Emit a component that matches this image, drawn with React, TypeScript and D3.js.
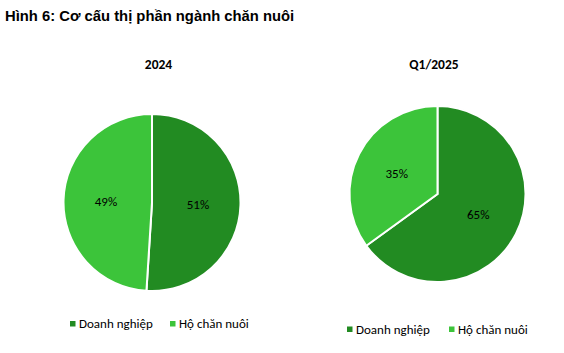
import React from "react";
import * as d3 from "d3";

const title = "Hình 6: Cơ cấu thị phần ngành chăn nuôi";
const categories = ["Doanh nghiệp", "Hộ chăn nuôi"];
const colors = ["#228B22", "#3CC43A"];
const chartTitles = ["2024", "Q1/2025"];
const values2024 = [51, 49];
const valuesQ1 = [65, 35];

const charts = [
  { title: chartTitles[0], values: values2024, cx: 152, cy: 202.5, r: 88.5, titleX: 158.5, titleY: 69, legendY: 328, legendX: 70, legendGap: 100 },
  { title: chartTitles[1], values: valuesQ1, cx: 437.5, cy: 194, r: 88, titleX: 434, titleY: 69, legendY: 333.5, legendX: 347, legendGap: 102 },
];

const font = "Carlito, Calibri, 'Open Sans', 'Noto Sans', sans-serif";

function Pie({ c }: { c: any }) {
  const pie = d3.pie<number>().sort(null).value((d) => d);
  const arcs = pie(c.values);
  const arc = d3.arc<d3.PieArcDatum<number>>().innerRadius(0).outerRadius(c.r);
  const labelArc = d3.arc<d3.PieArcDatum<number>>().innerRadius(c.r * 0.52).outerRadius(c.r * 0.52);
  return (
    <g>
      <text x={c.titleX} y={c.titleY} textAnchor="middle" fontFamily={font} fontWeight="bold" fontSize={13.5} fill="#000">
        {c.title}
      </text>
      <g transform={`translate(${c.cx},${c.cy})`}>
        {arcs.map((a, i) => (
          <path key={i} d={arc(a) || ""} fill={colors[i]} stroke="#fff" strokeWidth={2} strokeLinejoin="miter" />
        ))}
        {arcs.map((a, i) => {
          const [x, y] = labelArc.centroid(a);
          return (
            <text key={i} x={x} y={y} dy="0.35em" textAnchor="middle" fontFamily={font} fontSize={13} fill="#000">
              {`${c.values[i]}%`}
            </text>
          );
        })}
      </g>
      <g transform={`translate(${c.legendX},${c.legendY})`}>
        {categories.map((cat, i) => {
          const x = i === 0 ? 0 : c.legendGap;
          return (
            <g key={cat} transform={`translate(${x},0)`}>
              <rect x={0} y={-7} width={5.5} height={5.5} fill={colors[i]} />
              <text x={9} y={0} fontFamily={font} fontSize={13} fill="#000">
                {cat}
              </text>
            </g>
          );
        })}
      </g>
    </g>
  );
}

export default function App() {
  return (
    <svg width={564} height={353} style={{ position: "absolute", left: 0, top: 0, background: "#fff" }}>
      <rect width={564} height={353} fill="#fff" />
      <text x={5} y={21} fontFamily="'Liberation Sans', Arial, sans-serif" fontWeight="bold" fontSize={14.8} fill="#000">
        {title}
      </text>
      {charts.map((c, i) => (
        <Pie key={i} c={c} />
      ))}
    </svg>
  );
}
